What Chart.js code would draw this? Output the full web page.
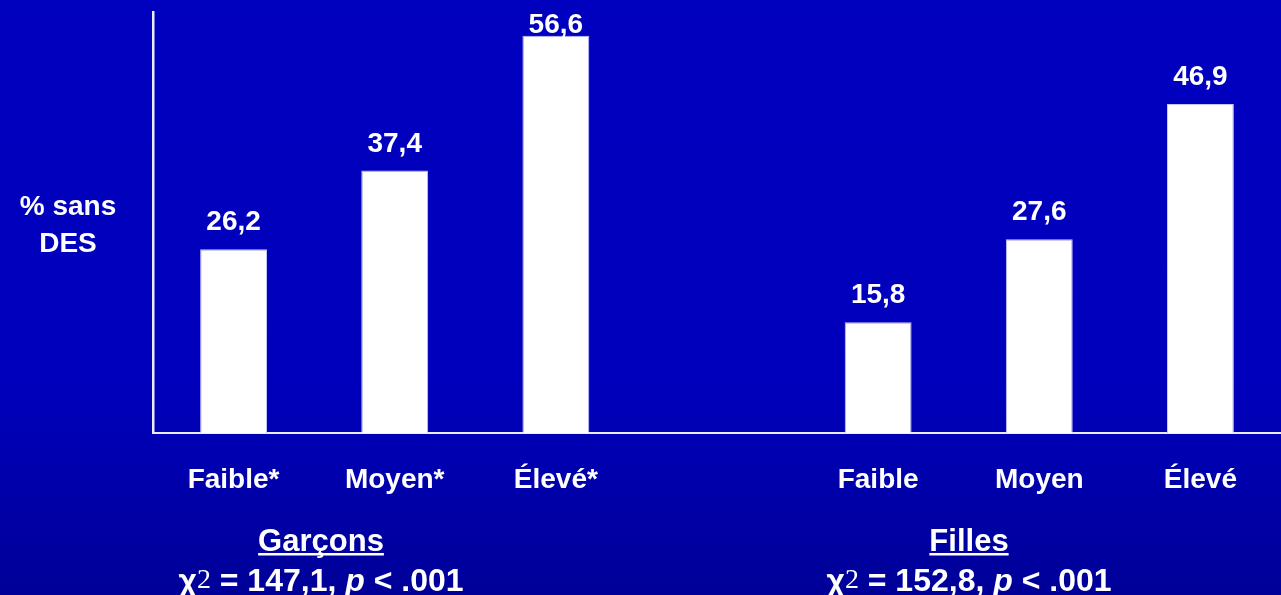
<!DOCTYPE html>
<html lang="fr">
<head>
<meta charset="utf-8">
<title>% sans DES</title>
<script src="https://cdn.jsdelivr.net/npm/chart.js@4.4.1/dist/chart.umd.min.js"></script>
<style>
  html, body { margin: 0; padding: 0; }
  body {
    width: 1281px;
    height: 595px;
    overflow: hidden;
    background: linear-gradient(to bottom, #0000bf 0%, #0000bc 65%, #000098 100%);
  }
  #wrap { position: relative; width: 1281px; height: 595px; }
</style>
</head>
<body>
<div id="wrap"><canvas id="chart"></canvas></div>
<script>
// catégories (une case vide sépare garçons et filles)
const categories = ["Faible*", "Moyen*", "Élevé*", "", "Faible", "Moyen", "Élevé"];
const values = [26.2, 37.4, 56.6, null, 15.8, 27.6, 46.9];
const valueLabels = ["26,2", "37,4", "56,6", "", "15,8", "27,6", "46,9"];

const yTitle = ["% sans", "DES"];
const groupNames = ["Garçons", "Filles"];
const groupChi = ["147,1", "152,8"];

const FONT = "'Liberation Sans', Arial, sans-serif";
const WHITE = "#ffffff";
const AXIS = "#ececff";

// étiquettes des valeurs au-dessus des barres
const valueLabelPlugin = {
  id: "valueLabels",
  afterDatasetsDraw(chart) {
    const ctx = chart.ctx;
    const meta = chart.getDatasetMeta(0);
    ctx.save();
    ctx.font = "bold 28px " + FONT;
    ctx.fillStyle = WHITE;
    ctx.textAlign = "center";
    ctx.textBaseline = "alphabetic";
    meta.data.forEach((bar, i) => {
      if (values[i] == null) return;
      const y = Math.max(bar.y - 19, chart.chartArea.top + 21);
      ctx.fillText(valueLabels[i], bar.x, y);
    });
    ctx.restore();
  },
};

// titre de l'axe y (horizontal) et légendes des groupes
const textPlugin = {
  id: "texts",
  afterDraw(chart) {
    const ctx = chart.ctx;
    ctx.save();
    ctx.fillStyle = WHITE;
    ctx.textBaseline = "alphabetic";

    ctx.font = "bold 28px " + FONT;
    ctx.textAlign = "center";
    ctx.fillText(yTitle[0], 68, 215);
    ctx.fillText(yTitle[1], 68, 252);

    const centers = [321, 969];
    groupNames.forEach((name, g) => {
      const cx = centers[g];
      ctx.font = "bold 31px " + FONT;
      ctx.textAlign = "center";
      ctx.fillText(name, cx, 551);
      const w = ctx.measureText(name).width;
      ctx.fillRect(cx - w / 2, 553, w, 2.5);

      // ligne du khi-deux
      const parts = [
        { t: "χ", f: "bold 32px " + FONT, dy: 0 },
        { t: "2", f: "28px 'Liberation Serif', 'Times New Roman', serif", dy: -3 },
        { t: " = " + groupChi[g] + ", ", f: "bold 32px " + FONT, dy: 0 },
        { t: "p", f: "italic bold 32px " + FONT, dy: 0 },
        { t: " < .001", f: "bold 32px " + FONT, dy: 0 },
      ];
      let total = 0;
      parts.forEach((p) => {
        ctx.font = p.f;
        p.w = ctx.measureText(p.t).width;
        total += p.w;
      });
      let x = cx - total / 2;
      ctx.textAlign = "left";
      parts.forEach((p) => {
        ctx.font = p.f;
        ctx.fillText(p.t, x, 591 + p.dy);
        x += p.w;
      });
    });
    ctx.restore();
  },
};

new Chart(document.getElementById("chart"), {
  type: "bar",
  data: {
    labels: categories,
    datasets: [
      {
        data: values,
        backgroundColor: WHITE,
        borderColor: "#c4c4ff",
        borderWidth: 1,
        categoryPercentage: 1,
        barPercentage: 0.415,
      },
    ],
  },
  options: {
    responsive: true,
    maintainAspectRatio: false,
    animation: false,
    layout: { padding: { top: 12, right: 0, bottom: 0, left: 0 } },
    plugins: {
      legend: { display: false },
      tooltip: { enabled: false },
    },
    scales: {
      x: {
        grid: { display: false, drawTicks: false },
        border: { display: true, color: AXIS, width: 2 },
        ticks: {
          color: WHITE,
          font: { family: FONT, size: 28, weight: "bold" },
          padding: 30,
          maxRotation: 0,
          autoSkip: false,
        },
        afterFit(scale) { scale.height = 162; },
      },
      y: {
        min: 0,
        max: 60,
        grid: { display: false, drawTicks: false },
        border: { display: true, color: AXIS, width: 2.5 },
        ticks: { display: false },
        afterFit(scale) { scale.width = 153; },
      },
    },
  },
  plugins: [valueLabelPlugin, textPlugin],
});
</script>
</body>
</html>
